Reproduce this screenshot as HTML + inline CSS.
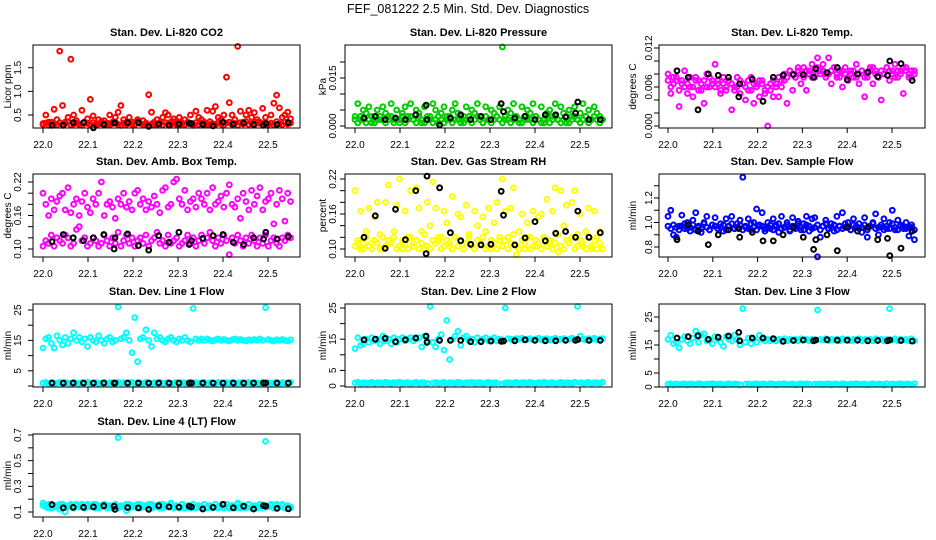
<!DOCTYPE html>
<html><head><meta charset="utf-8"><style>
html,body{margin:0;padding:0;background:#fff;}
svg{display:block;font-family:"Liberation Sans",Arial,sans-serif;}
</style></head><body>
<svg id="chart" width="936" height="540" viewBox="0 0 936 540" xmlns="http://www.w3.org/2000/svg">
<rect x="0" y="0" width="936" height="540" fill="#fff"/>
<text x="468" y="13" text-anchor="middle" font-size="12.5">FEF_081222  2.5 Min. Std. Dev. Diagnostics</text>
</svg>
<script>
// ---------- data ----------
const xTicks = [22.0, 22.1, 22.2, 22.3, 22.4, 22.5];
const xTickLabels = ["22.0", "22.1", "22.2", "22.3", "22.4", "22.5"];
const blackTimes = [22.02,22.045,22.067,22.09,22.112,22.135,22.158,22.16,22.188,22.212,22.235,22.257,22.28,22.302,22.325,22.33,22.355,22.378,22.4,22.423,22.446,22.468,22.49,22.495,22.52,22.545];

const co2Main = [0.32,0.5,0.35,0.3,0.62,0.4,1.85,0.7,0.35,0.45,1.68,0.5,0.38,0.3,0.6,0.35,0.42,0.83,0.48,0.3,0.4,0.32,0.38,0.3,0.5,0.35,0.45,0.56,0.7,0.4,0.3,0.45,0.35,0.3,0.4,0.32,0.38,0.3,0.93,0.56,0.3,0.4,0.33,0.45,0.55,0.5,0.35,0.42,0.3,0.45,0.33,0.4,0.35,0.5,0.3,0.58,0.45,0.4,0.35,0.6,0.3,0.58,0.68,0.45,0.4,0.5,1.3,0.76,0.5,0.4,1.95,0.58,0.35,0.5,0.6,0.45,0.55,0.4,0.35,0.64,0.45,0.3,0.5,0.75,0.92,0.65,0.45,0.5,0.56,0.42];
const co2Base = [0.3,0.33,0.28,0.35,0.31,0.29,0.34,0.3,0.32,0.36,0.29,0.31,0.33,0.3,0.28,0.35,0.32,0.3,0.34,0.29,0.31,0.36,0.3,0.33,0.29,0.32,0.35,0.3,0.28,0.33,0.31,0.34,0.3,0.29,0.36,0.32,0.3,0.33,0.28,0.31,0.35,0.3,0.32,0.29,0.34,0.31,0.3,0.36,0.33,0.29,0.31,0.3,0.35,0.32,0.28,0.34,0.3,0.33,0.31,0.29,0.36,0.32,0.3,0.34,0.31,0.29,0.33,0.35,0.3,0.32,0.28,0.34,0.31,0.36,0.3,0.33,0.29,0.35,0.32,0.3,0.34,0.31,0.33,0.29,0.36,0.32,0.3,0.35,0.31,0.33];
const co2Black = [0.28,0.28,0.34,0.34,0.23,0.3,0.33,0.33,0.34,0.34,0.26,0.31,0.28,0.31,0.32,0.32,0.3,0.27,0.35,0.31,0.33,0.3,0.28,0.32,0.3,0.34];

const presMain = [0.003,0.007,0.002,0.005,0.004,0.006,0.001,0.003,0.005,0.002,0.006,0.004,0.003,0.007,0.002,0.005,0.001,0.004,0.006,0.003,0.007,0.002,0.005,0.004,0.001,0.006,0.003,0.002,0.007,0.005,0.001,0.004,0.006,0.003,0.002,0.005,0.007,0.004,0.001,0.003,0.006,0.002,0.005,0.004,0.007,0.003,0.001,0.006,0.002,0.005,0.004,0.003,0.006,0.0247,0.002,0.005,0.004,0.007,0.003,0.001,0.006,0.002,0.005,0.004,0.007,0.003,0.002,0.006,0.001,0.004,0.005,0.003,0.007,0.002,0.006,0.004,0.001,0.005,0.003,0.006,0.002,0.004,0.007,0.003,0.005,0.002,0.006,0.004,0.003,0.002];
const presBase = [0.002,0.001,0.003,0.002,0.001,0.002,0.003,0.001,0.002,0.003,0.002,0.001,0.002,0.003,0.001,0.002,0.002,0.003,0.001,0.002,0.003,0.002,0.001,0.003,0.002,0.001,0.002,0.003,0.001,0.002,0.003,0.002,0.001,0.002,0.003,0.001,0.002,0.002,0.003,0.001,0.002,0.003,0.001,0.002,0.003,0.002,0.001,0.003,0.002,0.001,0.002,0.003,0.002,0.001,0.003,0.002,0.001,0.002,0.003,0.002,0.001,0.003,0.002,0.002,0.001,0.003,0.002,0.001,0.002,0.003,0.001,0.002,0.003,0.002,0.001,0.002,0.003,0.001,0.002,0.003,0.002,0.001,0.002,0.003,0.001,0.002,0.003,0.002,0.001,0.002];
const presBlack = [0.0025,0.003,0.002,0.0025,0.002,0.0035,0.0065,0.002,0.0003,0.0025,0.0035,0.002,0.003,0.002,0.007,0.0045,0.0025,0.003,0.002,0.0035,0.0035,0.0028,0.004,0.0075,0.002,0.002];

const tempMain = [0.008,0.005,0.0075,0.007,0.003,0.0065,0.0085,0.005,0.006,0.0045,0.0075,0.007,0.0055,0.0035,0.008,0.006,0.007,0.0095,0.0065,0.005,0.0075,0.0055,0.007,0.0025,0.006,0.0075,0.005,0.0065,0.004,0.0055,0.0075,0.0035,0.0065,0.0045,0.007,0.005,0.0,0.0055,0.0045,0.0065,0.0045,0.006,0.007,0.0035,0.0085,0.0055,0.0075,0.009,0.0065,0.0075,0.0055,0.0085,0.0095,0.0075,0.0105,0.0085,0.0095,0.008,0.0105,0.0065,0.009,0.0075,0.0085,0.006,0.009,0.007,0.0085,0.0075,0.0095,0.0065,0.0085,0.0045,0.0075,0.009,0.0065,0.0085,0.0075,0.004,0.008,0.009,0.007,0.0085,0.0095,0.0075,0.0085,0.005,0.009,0.0075,0.0085,0.008];
const tempBase = [0.007,0.006,0.0065,0.0075,0.0055,0.007,0.006,0.0065,0.0075,0.006,0.007,0.0055,0.0065,0.007,0.006,0.0075,0.0065,0.006,0.007,0.0055,0.0065,0.006,0.007,0.0065,0.0055,0.006,0.007,0.0065,0.006,0.007,0.0055,0.0065,0.006,0.007,0.0065,0.0055,0.006,0.0065,0.007,0.006,0.0075,0.007,0.008,0.0075,0.0085,0.008,0.0075,0.0085,0.008,0.009,0.0085,0.008,0.0075,0.0085,0.009,0.008,0.0085,0.0075,0.008,0.0085,0.009,0.008,0.0075,0.0085,0.008,0.0075,0.008,0.0085,0.0075,0.008,0.0085,0.0075,0.008,0.0085,0.009,0.008,0.0075,0.0085,0.008,0.009,0.0085,0.008,0.0075,0.0085,0.008,0.009,0.0085,0.008,0.0075,0.0085];
const tempBlack = [0.0085,0.0075,0.0025,0.008,0.0078,0.0075,0.0045,0.0065,0.0072,0.0038,0.0075,0.0078,0.0079,0.0079,0.0075,0.0088,0.0082,0.009,0.0071,0.008,0.0083,0.0076,0.0078,0.01,0.0096,0.007];

const ambUpper = [0.2,0.18,0.16,0.19,0.17,0.185,0.195,0.2,0.17,0.21,0.165,0.18,0.19,0.16,0.185,0.2,0.175,0.165,0.19,0.18,0.2,0.22,0.16,0.18,0.185,0.175,0.155,0.19,0.18,0.2,0.175,0.185,0.17,0.2,0.205,0.18,0.19,0.17,0.185,0.175,0.195,0.18,0.165,0.205,0.21,0.175,0.18,0.22,0.225,0.19,0.18,0.205,0.17,0.185,0.19,0.175,0.2,0.19,0.18,0.2,0.17,0.21,0.18,0.185,0.195,0.175,0.2,0.215,0.18,0.175,0.19,0.155,0.2,0.185,0.17,0.205,0.18,0.195,0.21,0.17,0.185,0.19,0.2,0.145,0.18,0.205,0.19,0.15,0.2,0.185];
const ambLower = [0.105,0.115,0.11,0.125,0.105,0.12,0.115,0.11,0.125,0.12,0.105,0.11,0.135,0.14,0.115,0.12,0.105,0.11,0.12,0.115,0.105,0.11,0.125,0.115,0.105,0.12,0.11,0.13,0.105,0.115,0.125,0.11,0.12,0.105,0.115,0.12,0.11,0.125,0.105,0.115,0.12,0.13,0.11,0.115,0.105,0.125,0.11,0.115,0.12,0.105,0.11,0.115,0.125,0.11,0.12,0.105,0.115,0.125,0.11,0.12,0.13,0.115,0.105,0.12,0.11,0.125,0.115,0.09,0.12,0.11,0.125,0.115,0.105,0.12,0.11,0.125,0.115,0.105,0.12,0.11,0.125,0.105,0.115,0.12,0.11,0.105,0.12,0.115,0.125,0.12];
const ambBlack = [0.113,0.126,0.12,0.115,0.12,0.126,0.1,0.12,0.127,0.106,0.098,0.124,0.112,0.13,0.108,0.115,0.119,0.124,0.126,0.112,0.108,0.12,0.118,0.13,0.118,0.122];

const rhMain = [0.2,0.11,0.165,0.1,0.13,0.17,0.11,0.155,0.18,0.1,0.12,0.18,0.21,0.11,0.13,0.175,0.22,0.1,0.165,0.12,0.2,0.11,0.205,0.17,0.13,0.1,0.18,0.14,0.215,0.17,0.115,0.12,0.165,0.145,0.105,0.19,0.12,0.16,0.155,0.1,0.175,0.12,0.105,0.165,0.14,0.11,0.155,0.13,0.17,0.1,0.145,0.18,0.115,0.22,0.165,0.12,0.17,0.205,0.09,0.13,0.16,0.1,0.145,0.12,0.165,0.105,0.155,0.16,0.12,0.185,0.11,0.165,0.205,0.095,0.2,0.14,0.175,0.11,0.18,0.2,0.125,0.16,0.105,0.13,0.17,0.1,0.165,0.12,0.13,0.1];
const rhBase = [0.105,0.115,0.1,0.11,0.12,0.105,0.1,0.115,0.11,0.125,0.1,0.105,0.115,0.11,0.12,0.1,0.105,0.115,0.11,0.1,0.12,0.105,0.115,0.1,0.11,0.125,0.105,0.1,0.115,0.11,0.12,0.1,0.105,0.115,0.11,0.1,0.12,0.105,0.115,0.1,0.11,0.125,0.105,0.1,0.115,0.11,0.12,0.1,0.105,0.115,0.11,0.1,0.12,0.105,0.115,0.1,0.11,0.125,0.105,0.1,0.115,0.11,0.12,0.1,0.105,0.115,0.11,0.1,0.12,0.105,0.115,0.1,0.11,0.125,0.105,0.1,0.115,0.11,0.12,0.1,0.105,0.115,0.11,0.1,0.12,0.105,0.115,0.1,0.11,0.1];
const rhBlack = [0.12,0.157,0.101,0.168,0.116,0.2,0.092,0.225,0.205,0.128,0.114,0.108,0.107,0.108,0.199,0.158,0.107,0.119,0.147,0.114,0.127,0.13,0.12,0.165,0.12,0.128];

const flowMain = [1.05,1.1,0.9,0.88,0.97,1.06,0.95,1.0,0.93,1.02,1.08,0.96,0.92,1.0,1.05,0.94,0.98,1.04,0.95,0.99,0.93,1.03,0.97,1.05,0.95,0.99,1.02,1.37,0.96,1.03,0.94,1.0,1.11,0.97,1.08,0.93,1.0,0.95,1.03,0.98,0.92,1.05,0.96,1.0,0.93,1.04,0.97,1.01,0.94,0.99,1.05,0.93,1.03,1.04,0.72,0.88,0.97,1.02,0.95,0.99,0.93,1.05,0.97,1.08,0.96,1.0,0.94,1.03,0.96,0.99,0.92,1.04,0.88,0.97,1.0,1.07,0.9,0.96,1.03,0.95,1.0,1.1,0.94,1.02,0.97,0.95,1.0,0.89,0.96,0.86];
const flowBase = [0.97,0.95,0.98,0.96,0.94,0.97,0.99,0.95,0.96,0.98,0.94,0.97,0.95,0.99,0.96,0.94,0.98,0.97,0.95,0.96,0.98,0.94,0.97,0.99,0.95,0.96,0.98,0.94,0.97,0.95,0.99,0.96,0.94,0.98,0.97,0.95,0.96,0.98,0.94,0.97,0.99,0.95,0.96,0.98,0.94,0.97,0.95,0.99,0.96,0.94,0.98,0.97,0.95,0.96,0.98,0.94,0.97,0.99,0.95,0.96,0.98,0.94,0.97,0.95,0.99,0.96,0.94,0.98,0.97,0.95,0.96,0.98,0.94,0.97,0.99,0.95,0.96,0.98,0.94,0.97,0.95,0.99,0.96,0.94,0.98,0.97,0.95,0.96,0.98,0.94];
const flowBlack = [0.86,0.98,0.93,0.82,0.9,0.94,0.95,0.88,0.92,0.85,0.85,0.9,0.96,0.88,0.78,0.86,0.9,0.77,0.96,0.93,0.96,0.86,0.87,0.73,0.79,0.93];

const line1Main = [12.5,15.5,16,14,12.5,16.5,15,13.5,16,14,15.5,17.5,15,16,14.5,15.5,13,16,15,14.5,16.5,15,14,15.5,16,14.5,15,26,15.5,16,17.5,15,11,22.5,8,15.5,16,18.5,15,13,17.5,15.5,16,15,14.5,15.5,16,15,14.5,15.5,15,16,15,14.5,25.5,15.5,15,15.5,15,15.5,15,14.8,15.2,15.5,15,15.3,15,14.8,15.2,15.5,15,15.3,15,14.8,15.2,15,15.3,15,15.5,15,25.8,15.3,15,14.8,15.2,15,15.3,15,14.8,15.2];
const line1Band = [1,1.2,0.8,1.1,0.9,1,1.2,0.8,1.1,1,0.9,1.2,1,0.8,1.1,1,1.2,0.9,1,1.1,0.8,1,1.2,0.9,1.1,1,0.8,1.2,1,1.1,0.9,1,1.2,0.8,1.1,1,0.9,1.2,1,0.8,1.1,1,1.2,0.9,1,1.1,0.8,1,1.2,0.9,1.1,1,0.8,1.2,1,1.1,0.9,1,1.2,0.8,1.1,1,0.9,1.2,1,0.8,1.1,1,1.2,0.9,1,1.1,0.8,1,1.2,0.9,1.1,1,0.8,1.2,1,1.1,0.9,1,1.2,0.8,1.1,1,0.9,1.2];
const line1Black = [1,1,1,1,1,1,1,1,1,1,1,1,1,1,1,1,1,1,1,1,1,1,1,1,1,1];

const line2Main = [12,15.5,13,13.5,15,14,15.5,14.5,15,13.5,16,14.5,15,13.5,15.5,14,15,15.5,14.5,15,15.5,14.5,15,15.5,12.5,16,14.5,25.5,14,12.5,15,16.5,11.5,21,8.5,15,16,17.5,13,15.5,16,14.5,15,14,15.5,14.5,15,15.5,14.5,15,15.5,14.5,15,14.8,25,15.2,15,14.8,15.2,15,15.3,14.8,15,15.2,14.8,15,15.3,14.8,15,15.2,14.8,15,15.3,14.8,15,15.2,14.8,15,15.3,15,25.5,16,15,14.8,15.2,15,15.3,14.8,15,15.2];
const line2Band = [1,1.2,0.8,1.1,0.9,1,1.2,0.8,1.1,1,0.9,1.2,1,0.8,1.1,1,1.2,0.9,1,1.1,0.8,1,1.2,0.9,1.1,1,0.8,null,1,1.1,0.9,1,1.2,0.8,1.1,1,0.9,1.2,1,0.8,1.1,1,1.2,0.9,1,1.1,0.8,1,1.2,0.9,1.1,1,null,0.6,1,1.1,0.9,1,1.2,0.8,1.1,1,0.9,1.2,1,0.8,1.1,1,1.2,0.9,1,1.1,0.8,1,1.2,0.9,1.1,1,0.8,1.2,null,1.1,0.9,1,1.2,0.8,1.1,1,0.9,1.2];
const line2Black = [14.8,15,15.3,14.2,14.8,15.4,16,14,14.6,14.6,14.6,14.2,14.2,14.4,14.3,14.4,14.5,14.8,14.6,14.5,14.5,14.6,14.6,14.9,14.6,14.6];

const line3Main = [17,18.5,15.5,16,14,17,18,16.5,15.5,17.5,20,16,18.5,19,16.5,17,15.5,18,17,16,14.5,18,17,16.5,18.5,17,15,28,16,17.5,15.5,17,16,18.5,17,16.5,17,16.5,17,16.5,17,16.8,17.2,16.5,17,16.8,17,16.5,17.2,16.8,17,16.5,17,16.8,27.5,17,16.8,17.2,16.5,17,16.8,17,16.5,17.2,16.8,17,16.5,17,16.8,17.2,16.5,17,16.8,17,16.5,17.2,16.8,17,16.5,17,28,16.8,17.2,16.5,17,16.8,17,16.5,17.2,16.5];
const line3Band = [1,1.2,0.8,1.1,0.9,1,1.2,0.8,1.1,1,0.9,1.2,1,0.8,1.1,1,1.2,0.9,1,1.1,0.8,1,1.2,0.9,1.1,1,0.8,null,1,1.1,0.9,1,1.2,0.8,1.1,1,0.9,1.2,1,0.8,1.1,1,1.2,0.9,1,1.1,0.8,1,1.2,0.9,1.1,1,null,1,1,1.1,0.9,1,1.2,0.8,1.1,1,0.9,1.2,1,0.8,1.1,1,1.2,0.9,1,1.1,0.8,1,1.2,0.9,1.1,1,0.8,1.2,null,1.1,0.9,1,1.2,0.8,1.1,1,0.9,1.2];
const line3Black = [17.5,18,18.3,17,17.8,18.2,19.5,16.5,17.5,17.5,17.3,16.3,16.6,16.8,16.5,16.8,16.9,16.7,16.7,16.7,16.5,16.6,16.5,16.8,16.6,16.4];

const line4Main = [0.17,0.15,0.13,0.16,0.14,0.15,0.12,0.16,0.1,0.14,0.15,0.13,0.16,0.14,0.15,0.13,0.16,0.15,0.14,0.16,0.13,0.15,0.16,0.14,0.15,0.13,0.16,0.68,0.14,0.15,0.11,0.16,0.14,0.15,0.13,0.16,0.14,0.15,0.13,0.16,0.14,0.15,0.13,0.16,0.14,0.15,0.17,0.14,0.15,0.13,0.16,0.14,0.15,0.13,0.16,0.14,0.15,0.13,0.16,0.14,0.15,0.13,0.16,0.14,0.15,0.13,0.16,0.14,0.15,0.13,0.17,0.14,0.15,0.13,0.16,0.14,0.15,0.13,0.16,0.15,0.65,0.14,0.15,0.13,0.16,0.14,0.15,0.13,0.14,0.13];
const line4Base = [0.15,0.14,0.16,0.13,0.15,0.14,0.16,0.13,0.15,0.14,0.16,0.13,0.15,0.14,0.16,0.13,0.15,0.14,0.16,0.13,0.15,0.14,0.16,0.13,0.15,0.14,0.16,0.13,0.15,0.14,0.16,0.13,0.15,0.14,0.16,0.13,0.15,0.14,0.16,0.13,0.15,0.14,0.16,0.13,0.15,0.14,0.16,0.13,0.15,0.14,0.16,0.13,0.15,0.14,0.16,0.13,0.15,0.14,0.16,0.13,0.15,0.14,0.16,0.13,0.15,0.14,0.16,0.13,0.15,0.14,0.16,0.13,0.15,0.14,0.16,0.13,0.15,0.14,0.16,0.13,0.15,0.14,0.16,0.13,0.15,0.14,0.16,0.13,0.15,0.14];
const line4Black = [0.158,0.133,0.137,0.137,0.14,0.148,0.145,0.12,0.135,0.132,0.12,0.148,0.14,0.138,0.145,0.14,0.123,0.137,0.16,0.133,0.145,0.123,0.15,0.145,0.128,0.125];

// ---------- rendering ----------
const NS = "http://www.w3.org/2000/svg";
const svg = document.getElementById("chart");
function mk(tag, attrs, parent) {
  const e = document.createElementNS(NS, tag);
  for (const k in attrs) e.setAttribute(k, attrs[k]);
  (parent || svg).appendChild(e);
  return e;
}
const panels = [
  {name:"co2", title:"Stan. Dev. Li-820 CO2", ylab:"Licor ppm", bx:33, bw:267, by:45, bh:83, x22:43, ppu:450, va:0.5, ya:115, vb:1.5, yb:67.7, ticks:[0.5,1.0,1.5], labels:["0.5","1.0","1.5"], lblx:17, titlex:7, color:"#ff0000", series:[co2Base, co2Main], black:co2Black},
  {name:"pressure", title:"Stan. Dev. Li-820 Pressure", ylab:"kPa", bx:345, bw:267, by:45, bh:83, x22:355, ppu:450, va:0, ya:126, vb:0.015, yb:78, ticks:[0,0.005,0.01,0.015,0.02], labels:["0.000","","","0.015",""], lblx:332, titlex:322, color:"#00cc00", series:[presBase, presMain], black:presBlack},
  {name:"temp", title:"Stan. Dev. Li-820 Temp.", ylab:"degrees C", bx:659, bw:266, by:45, bh:83, x22:668, ppu:448, va:0, ya:126, vb:0.012, yb:48, ticks:[0,0.002,0.004,0.006,0.008,0.01,0.012], labels:["0.000","","","0.006","","","0.012"], lblx:648, titlex:632, color:"#ff00ff", series:[tempBase, tempMain], black:tempBlack},
  {name:"amb-box-temp", title:"Stan. Dev. Amb. Box Temp.", ylab:"degrees C", bx:33, bw:267, by:174, bh:83, x22:43, ppu:450, va:0.1, ya:249, vb:0.22, yb:182, ticks:[0.1,0.12,0.14,0.16,0.18,0.2,0.22], labels:["0.10","","","0.16","","","0.22"], lblx:17, titlex:7, color:"#ff00ff", series:[ambUpper, ambLower], black:ambBlack},
  {name:"gas-rh", title:"Stan. Dev. Gas Stream RH", ylab:"percent", bx:345, bw:267, by:174, bh:83, x22:355, ppu:450, va:0.1, ya:249, vb:0.22, yb:179, ticks:[0.1,0.12,0.14,0.16,0.18,0.2,0.22], labels:["0.10","","","0.16","","","0.22"], lblx:332, titlex:322, color:"#ffff00", series:[rhBase, rhMain], black:rhBlack},
  {name:"sample-flow", title:"Stan. Dev. Sample Flow", ylab:"ml/min", bx:659, bw:266, by:174, bh:83, x22:668, ppu:448, va:0.8, ya:247, vb:1.2, yb:198, ticks:[0.8,0.9,1.0,1.1,1.2,1.3], labels:["0.8","","1.0","","1.2",""], lblx:648, titlex:632, color:"#0000ff", series:[flowBase, flowMain], black:flowBlack},
  {name:"line1-flow", title:"Stan. Dev. Line 1 Flow", ylab:"ml/min", bx:33, bw:267, by:304, bh:83, x22:43, ppu:450, va:0, ya:386, vb:25, yb:310, ticks:[0,5,10,15,20,25], labels:["","5","","15","","25"], lblx:17, titlex:7, color:"#00ffff", series:[line1Band, line1Main], black:line1Black},
  {name:"line2-flow", title:"Stan. Dev. Line 2 Flow", ylab:"ml/min", bx:345, bw:267, by:304, bh:83, x22:355, ppu:450, va:0, ya:386, vb:25, yb:308, ticks:[0,5,10,15,20,25], labels:["0","5","","15","","25"], lblx:332, titlex:322, color:"#00ffff", series:[line2Band, line2Main], black:line2Black},
  {name:"line3-flow", title:"Stan. Dev. Line 3 Flow", ylab:"ml/min", bx:659, bw:266, by:304, bh:83, x22:668, ppu:448, va:0, ya:387, vb:25, yb:317, ticks:[0,5,10,15,20,25], labels:["0","5","","15","","25"], lblx:648, titlex:632, color:"#00ffff", series:[line3Band, line3Main], black:line3Black},
  {name:"line4-flow", title:"Stan. Dev. Line 4 (LT) Flow", ylab:"ml/min", bx:33, bw:267, by:434, bh:83, x22:43, ppu:450, va:0.1, ya:512, vb:0.7, yb:435, ticks:[0.1,0.2,0.3,0.4,0.5,0.6,0.7], labels:["0.1","","0.3","","0.5","","0.7"], lblx:17, titlex:7, color:"#00ffff", series:[line4Base, line4Main], black:line4Black}
];

panels.forEach(p => {
  const g = mk("g", {});
  
  
  const sx = t => p.x22 + (t - 22) * p.ppu;
  const sy = v => p.ya + (v - p.va) * (p.yb - p.ya) / (p.vb - p.va);
  const t = mk("text", {x: p.bx + p.bw / 2, y: p.by - 9, "text-anchor": "middle", "font-size": "11", "font-weight": "bold"}, g);
  t.textContent = p.title;
  
  
  const pg = mk("g", {fill: "none", "stroke-width": "2"}, g);
  
  
  p.series.forEach(arr => {
    const n = arr.length;
    arr.forEach((v, i) => {
      if (v === null) return;
      const tt = 22 + i * 0.55 / (n - 1);
      const c = mk("circle", {cx: sx(tt).toFixed(1), cy: sy(v).toFixed(1), r: "2.4", stroke: p.color}, pg);
      
      
    });
  });
  p.black.forEach((v, i) => {
    const c = mk("circle", {cx: sx(blackTimes[i]).toFixed(1), cy: sy(v).toFixed(1), r: "2.4", stroke: "#000"}, pg);
    
    
  });
  const b = mk("rect", {x: p.bx, y: p.by, width: p.bw, height: p.bh, fill: "none", stroke: "#000", "stroke-width": "1"}, g);
  
  
  const yb = p.by + p.bh;
  xTicks.forEach((xv, i) => {
    const x = sx(xv);
    mk("line", {x1: x, x2: x, y1: yb, y2: yb + 5, stroke: "#000"}, g);
    const l = mk("text", {x: x, y: yb + 20, "text-anchor": "middle", "font-size": "10"}, g);
    l.textContent = xTickLabels[i];
    
    
  });
  p.ticks.forEach((yv, i) => {
    const y = sy(yv);
    mk("line", {x1: p.bx - 5, x2: p.bx, y1: y, y2: y, stroke: "#000"}, g);
    if (p.labels[i]) {
      const l = mk("text", {x: 0, y: 0, "text-anchor": "middle", "font-size": "10", transform: `translate(${p.lblx + 4},${y}) rotate(-90)`}, g);
      l.textContent = p.labels[i];
      
      
    }
  });
  const yt = mk("text", {x: 0, y: 0, "text-anchor": "middle", "font-size": "10", transform: `translate(${p.titlex + 4},${p.by + p.bh / 2}) rotate(-90)`}, g);
  yt.textContent = p.ylab;
  
  
});
</script>
</body></html>
